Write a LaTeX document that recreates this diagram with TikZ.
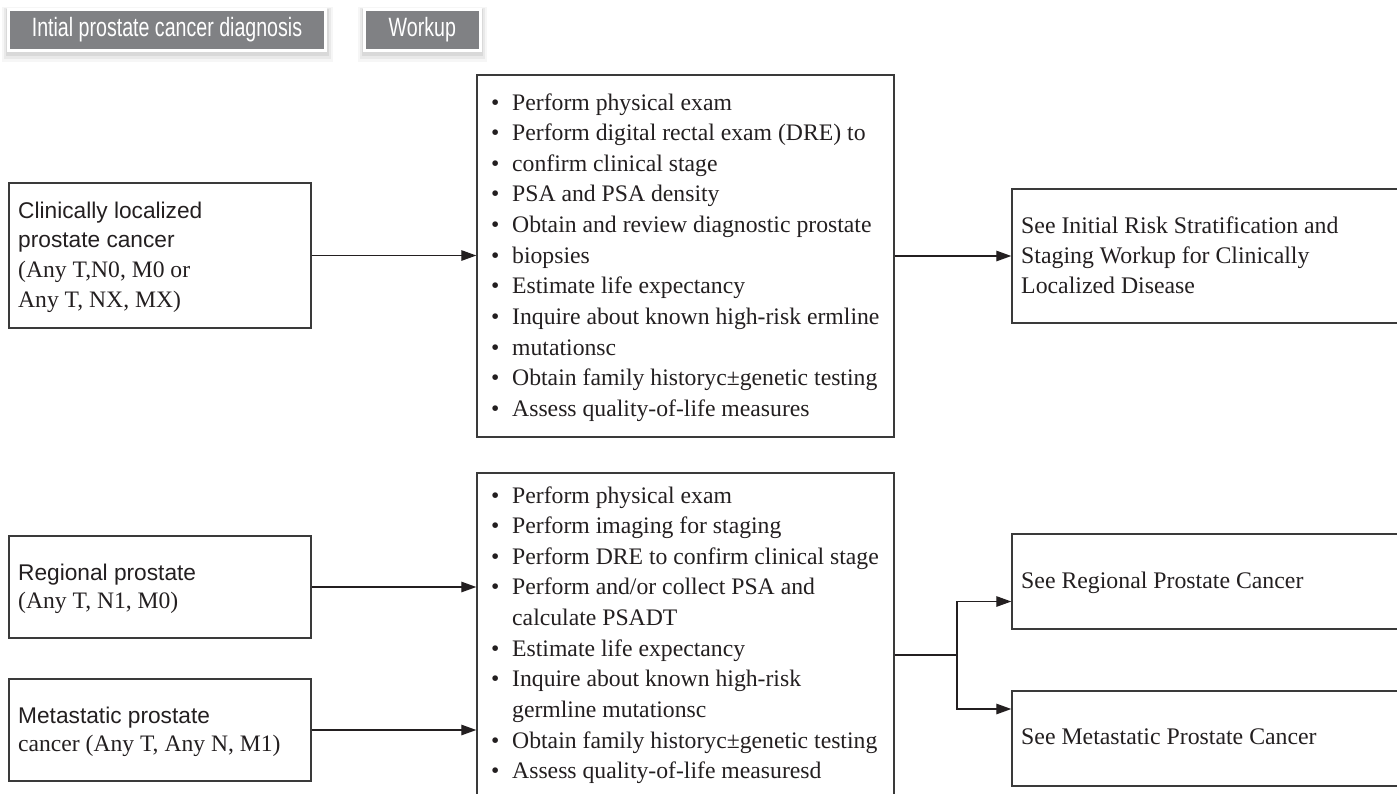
\documentclass[tikz,border=0pt]{standalone}
\usepackage{fontspec}
\usepackage{graphicx}
\setmainfont{Liberation Serif}
\newfontfamily\arialish{Liberation Sans}
\usetikzlibrary{arrows.meta}

\definecolor{tabgray}{HTML}{808184}
\definecolor{ink}{HTML}{231F20}
\definecolor{edge}{HTML}{3A3A3A}

% natural word spaces inside aligned nodes
\newcommand{\natsp}{\spaceskip=0pt\xspaceskip=0pt\relax}
% one bullet line of a workup list, and its continuation line
\newcommand{\bitem}[1]{\makebox[21pt][l]{\textbullet}#1}
\newcommand{\bcont}[1]{\hspace*{21pt}#1}

\begin{document}
\begin{tikzpicture}[x=1pt,y=-1pt,
  tab/.style={fill=tabgray, draw=white, line width=3pt, inner sep=0pt,
    text=white, font=\arialish\fontsize{26.5}{30}\selectfont,
    preaction={draw=black, line width=14pt, opacity=.035,
      transform canvas={yshift=-4.5pt}},
    preaction={draw=black, line width=10pt, opacity=.05,
      transform canvas={yshift=-4pt}},
    preaction={draw=black, line width=6pt, opacity=.07,
      transform canvas={yshift=-3pt}}},
  box/.style={draw=edge, line width=1.4pt, inner sep=0pt, rectangle},
  serif/.style={text=ink, inner sep=0pt, align=left},
  listtext/.style={serif, font=\fontsize{23.7}{30.65}\selectfont},
  conn/.style={draw=ink, line width=1.3pt, -{Triangle[length=15pt,width=10.5pt]}},
  plain/.style={draw=ink, line width=1.3pt}]

\clip (0,0) rectangle (1397,793);

% column headers
\node[tab, minimum width=317pt, minimum height=41pt] (tab1) at (167,29.5)
  {\scalebox{0.74}[1]{Intial prostate cancer diagnosis}};
\node[tab, minimum width=115.5pt, minimum height=41pt] (tab2) at (422.3,29.5)
  {\scalebox{0.74}[1]{Workup}};

% diagnosis boxes
\node[box, minimum width=302pt, minimum height=145pt] (L1) at (160,255.5) {};
\node[box, minimum width=302pt, minimum height=102pt] (L2) at (160,587) {};
\node[box, minimum width=302pt, minimum height=102pt] (L3) at (160,730) {};

% workup boxes
\node[box, minimum width=417pt, minimum height=362pt] (M1) at (685.5,256) {};
\node[box, minimum width=417pt, minimum height=337pt] (M2) at (685.5,641.5) {};

% follow-up boxes
\node[box, minimum width=408pt, minimum height=134pt] (R1) at (1216,256) {};
\node[box, minimum width=408pt, minimum height=95pt] (R2) at (1216,581.5) {};
\node[box, minimum width=408pt, minimum height=95pt] (R3) at (1216,738.5) {};

% texts of the diagnosis boxes
\node[serif, anchor=base west, text width=290pt] (L1t) at (18,218)
  {\natsp\fontsize{22.7}{29.7}\selectfont{\arialish Clinically localized}\\
   {\arialish prostate cancer}\\
   {\fontsize{23.6}{29.7}\selectfont (Any T,N0, M0 or}\\
   {\fontsize{23.6}{29.7}\selectfont Any T, NX, MX)}\par};
\node[serif, anchor=base west, text width=290pt] (L2t) at (18,580.5)
  {\natsp\fontsize{22.7}{27.5}\selectfont{\arialish Regional prostate}\\
   {\fontsize{23.6}{27.5}\selectfont (Any T, N1, M0)}\par};
\node[serif, anchor=base west, text width=290pt] (L3t) at (18,723.5)
  {\natsp\fontsize{22.7}{28.3}\selectfont{\arialish Metastatic prostate}\\
   {\fontsize{23.6}{28.3}\selectfont cancer (Any T, Any N, M1)}\par};

% workup lists
\node[listtext, anchor=base west, text width=400pt] (M1t) at (491,110)
  {\natsp\bitem{Perform physical exam}\\
   \bitem{Perform digital rectal exam (DRE) to}\\
   \bitem{confirm clinical stage}\\
   \bitem{PSA and PSA density}\\
   \bitem{Obtain and review diagnostic prostate}\\
   \bitem{biopsies}\\
   \bitem{Estimate life expectancy}\\
   \bitem{Inquire about known high-risk ermline}\\
   \bitem{mutationsc}\\
   \bitem{Obtain family historyc±genetic testing}\\
   \bitem{Assess quality-of-life measures}\par};
\node[listtext, anchor=base west, text width=400pt] (M2t) at (491,503)
  {\natsp\bitem{Perform physical exam}\\
   \bitem{Perform imaging for staging}\\
   \bitem{Perform DRE to confirm clinical stage}\\
   \bitem{Perform and/or collect PSA and}\\
   \bcont{calculate PSADT}\\
   \bitem{Estimate life expectancy}\\
   \bitem{Inquire about known high-risk}\\
   \bcont{germline mutationsc}\\
   \bitem{Obtain family historyc±genetic testing}\\
   \bitem{Assess quality-of-life measuresd}\par};

% follow-up texts
\node[serif, anchor=base west, text width=370pt,
  font=\fontsize{23.8}{30}\selectfont] (R1t) at (1021,233)
  {\natsp See Initial Risk Stratification and\\
   Staging Workup for Clinically\\
   Localized Disease\par};
\node[serif, anchor=base west, font=\fontsize{23.8}{30}\selectfont] (R2t)
  at (1021,588) {See Regional Prostate Cancer};
\node[serif, anchor=base west, font=\fontsize{23.8}{30}\selectfont] (R3t)
  at (1021,744) {See Metastatic Prostate Cancer};

% connectors
\draw[conn] (L1.east) -- (L1.east -| M1.west);
\draw[conn] (L2.east) -- (L2.east -| M2.west);
\draw[conn] (L3.east) -- (L3.east -| M2.west);
\draw[conn] (M1.east |- R1.west) -- (R1.west);

\coordinate (fork) at (957,655);
\draw[plain] (M2.east |- fork) -- (fork);
\draw[conn] (fork) |- ([yshift=-20pt]R2.west);
\draw[conn] (fork) |- ([yshift=29.5pt]R3.west);

\end{tikzpicture}
\end{document}
